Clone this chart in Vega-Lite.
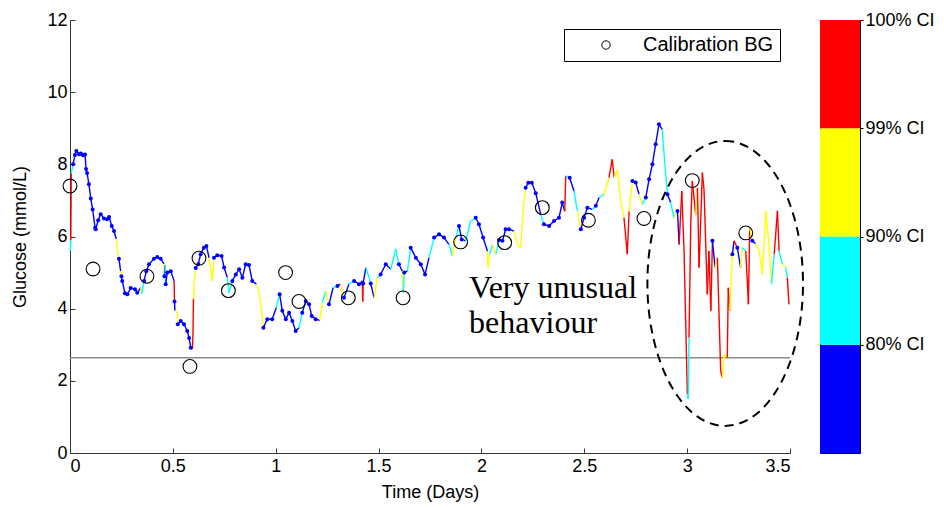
{
  "$schema": "https://vega.github.io/schema/vega-lite/v6.json",
  "padding": {"left": 11, "top": 10, "right": 5, "bottom": 5},
  "background": "white",
  "spacing": 30,
  "bounds": "flush",
  "config": {
    "view": {"stroke": null},
    "axis": {"labelFont": "Liberation Sans", "titleFont": "Liberation Sans", "labelFontSize": 18, "titleFontSize": 18, "titleFontWeight": "normal", "labelColor": "black", "titleColor": "black", "grid": false}
  },
  "datasets": {
    "trace": [
{"d":0.002,"g":5.60,"c":"90"},{"d":0.004,"g":5.90,"c":"100"},{"d":0.006,"g":7.75,"c":"90"},{"d":0.015,"g":8.00,"c":"80"},{"d":0.024,"g":8.26,"c":"80"},{"d":0.031,"g":8.37,"c":"80"},{"d":0.044,"g":8.28,"c":"80"},{"d":0.053,"g":8.30,"c":"80"},{"d":0.063,"g":8.25,"c":"80"},{"d":0.073,"g":8.27,"c":"80"},{"d":0.078,"g":7.87,"c":"80"},{"d":0.083,"g":7.76,"c":"80"},{"d":0.092,"g":7.45,"c":"80"},{"d":0.101,"g":7.05,"c":"80"},{"d":0.110,"g":6.75,"c":"80"},{"d":0.122,"g":6.24,"c":"80"},{"d":0.125,"g":6.20,"c":"80"},{"d":0.137,"g":6.45,"c":"80"},{"d":0.149,"g":6.62,"c":"80"},{"d":0.165,"g":6.50,"c":"80"},{"d":0.180,"g":6.48,"c":"80"},{"d":0.190,"g":6.54,"c":"80"},{"d":0.203,"g":6.29,"c":"80"},{"d":0.214,"g":6.15,"c":"80"},{"d":0.225,"g":5.93,"c":"99"},{"d":0.230,"g":5.60,"c":"99"},{"d":0.238,"g":5.38,"c":"80"},{"d":0.246,"g":5.04,"c":"99"},{"d":0.250,"g":4.90,"c":"80"},{"d":0.254,"g":4.77,"c":"80"},{"d":0.267,"g":4.43,"c":"80"},{"d":0.279,"g":4.40,"c":"80"},{"d":0.295,"g":4.57,"c":"80"},{"d":0.316,"g":4.54,"c":"80"},{"d":0.327,"g":4.44,"c":"80"},{"d":0.344,"g":4.58,"c":"99"},{"d":0.349,"g":4.40,"c":"90"},{"d":0.360,"g":4.77,"c":"80"},{"d":0.371,"g":5.04,"c":"80"},{"d":0.384,"g":5.23,"c":"80"},{"d":0.408,"g":5.38,"c":"80"},{"d":0.424,"g":5.43,"c":"80"},{"d":0.441,"g":5.38,"c":"80"},{"d":0.457,"g":5.24,"c":"99"},{"d":0.459,"g":4.90,"c":"80"},{"d":0.462,"g":5.20,"c":"90"},{"d":0.465,"g":4.68,"c":"80"},{"d":0.473,"g":5.00,"c":"80"},{"d":0.490,"g":5.04,"c":"80"},{"d":0.506,"g":4.77,"c":"100"},{"d":0.508,"g":4.20,"c":"80"},{"d":0.510,"g":3.94,"c":"99"},{"d":0.522,"g":3.90,"c":"99"},{"d":0.524,"g":3.57,"c":"80"},{"d":0.538,"g":3.66,"c":"80"},{"d":0.554,"g":3.57,"c":"80"},{"d":0.570,"g":3.38,"c":"80"},{"d":0.579,"g":3.19,"c":"80"},{"d":0.587,"g":2.92,"c":"80"},{"d":0.595,"g":2.88,"c":"100"},{"d":0.598,"g":3.33,"c":"100"},{"d":0.600,"g":4.27,"c":"99"},{"d":0.604,"g":4.77,"c":"99"},{"d":0.611,"g":5.13,"c":"80"},{"d":0.624,"g":5.24,"c":"80"},{"d":0.635,"g":5.51,"c":"80"},{"d":0.651,"g":5.69,"c":"80"},{"d":0.663,"g":5.74,"c":"80"},{"d":0.676,"g":5.41,"c":"99"},{"d":0.692,"g":4.77,"c":"99"},{"d":0.700,"g":5.41,"c":"80"},{"d":0.716,"g":5.48,"c":"80"},{"d":0.737,"g":5.46,"c":"80"},{"d":0.749,"g":5.14,"c":"80"},{"d":0.765,"g":4.86,"c":"90"},{"d":0.773,"g":4.44,"c":"90"},{"d":0.789,"g":4.77,"c":"80"},{"d":0.806,"g":4.95,"c":"80"},{"d":0.822,"g":5.09,"c":"80"},{"d":0.838,"g":4.86,"c":"80"},{"d":0.854,"g":5.23,"c":"80"},{"d":0.870,"g":5.21,"c":"80"},{"d":0.886,"g":4.77,"c":"80"},{"d":0.906,"g":4.68,"c":"99"},{"d":0.919,"g":4.44,"c":"99"},{"d":0.932,"g":3.94,"c":"99"},{"d":0.940,"g":3.47,"c":"80"},{"d":0.959,"g":3.71,"c":"80"},{"d":0.983,"g":3.71,"c":"80"},{"d":1.003,"g":4.03,"c":"90"},{"d":1.019,"g":4.40,"c":"80"},{"d":1.032,"g":3.94,"c":"80"},{"d":1.049,"g":3.71,"c":"80"},{"d":1.065,"g":3.89,"c":"80"},{"d":1.081,"g":3.66,"c":"80"},{"d":1.097,"g":3.38,"c":"80"},{"d":1.113,"g":3.47,"c":"90"},{"d":1.129,"g":3.89,"c":"80"},{"d":1.146,"g":4.21,"c":"80"},{"d":1.162,"g":4.12,"c":"80"},{"d":1.175,"g":3.80,"c":"80"},{"d":1.194,"g":3.71,"c":"80"},{"d":1.214,"g":3.68,"c":"99"},{"d":1.227,"g":4.17,"c":"90"},{"d":1.243,"g":4.49,"c":"99"},{"d":1.259,"g":4.12,"c":"80"},{"d":1.279,"g":4.58,"c":"90"},{"d":1.300,"g":4.63,"c":"80"},{"d":1.316,"g":4.68,"c":"99"},{"d":1.332,"g":4.30,"c":"80"},{"d":1.356,"g":4.68,"c":"90"},{"d":1.381,"g":4.77,"c":"80"},{"d":1.405,"g":4.68,"c":"80"},{"d":1.421,"g":4.77,"c":"100"},{"d":1.423,"g":4.20,"c":"100"},{"d":1.425,"g":4.70,"c":"80"},{"d":1.438,"g":5.14,"c":"90"},{"d":1.462,"g":4.70,"c":"80"},{"d":1.478,"g":4.30,"c":"99"},{"d":1.494,"g":4.86,"c":"90"},{"d":1.510,"g":4.95,"c":"80"},{"d":1.535,"g":5.23,"c":"80"},{"d":1.559,"g":5.09,"c":"90"},{"d":1.583,"g":5.65,"c":"90"},{"d":1.599,"g":5.23,"c":"80"},{"d":1.615,"g":5.04,"c":"99"},{"d":1.620,"g":4.44,"c":"90"},{"d":1.625,"g":5.00,"c":"80"},{"d":1.640,"g":5.04,"c":"90"},{"d":1.656,"g":5.69,"c":"80"},{"d":1.681,"g":5.41,"c":"80"},{"d":1.705,"g":5.23,"c":"80"},{"d":1.726,"g":4.95,"c":"80"},{"d":1.745,"g":5.41,"c":"90"},{"d":1.770,"g":5.97,"c":"80"},{"d":1.794,"g":6.06,"c":"80"},{"d":1.818,"g":5.97,"c":"80"},{"d":1.842,"g":5.78,"c":"90"},{"d":1.859,"g":5.46,"c":"99"},{"d":1.875,"g":5.97,"c":"90"},{"d":1.891,"g":6.29,"c":"80"},{"d":1.904,"g":5.92,"c":"80"},{"d":1.924,"g":5.88,"c":"90"},{"d":1.948,"g":6.43,"c":"90"},{"d":1.972,"g":6.52,"c":"80"},{"d":1.988,"g":6.34,"c":"80"},{"d":2.008,"g":5.97,"c":"80"},{"d":2.029,"g":5.60,"c":"99"},{"d":2.032,"g":5.14,"c":"99"},{"d":2.040,"g":5.50,"c":"90"},{"d":2.053,"g":5.78,"c":"99"},{"d":2.070,"g":5.51,"c":"90"},{"d":2.086,"g":5.90,"c":"80"},{"d":2.102,"g":5.88,"c":"80"},{"d":2.118,"g":6.20,"c":"80"},{"d":2.134,"g":6.20,"c":"80"},{"d":2.159,"g":6.15,"c":"99"},{"d":2.175,"g":5.78,"c":"99"},{"d":2.191,"g":5.69,"c":"99"},{"d":2.202,"g":6.71,"c":"99"},{"d":2.215,"g":7.35,"c":"80"},{"d":2.228,"g":7.49,"c":"80"},{"d":2.245,"g":7.49,"c":"80"},{"d":2.264,"g":7.20,"c":"80"},{"d":2.288,"g":6.62,"c":"90"},{"d":2.304,"g":6.34,"c":"80"},{"d":2.329,"g":6.29,"c":"80"},{"d":2.353,"g":6.43,"c":"80"},{"d":2.377,"g":6.52,"c":"80"},{"d":2.393,"g":6.94,"c":"80"},{"d":2.405,"g":6.70,"c":"100"},{"d":2.410,"g":7.68,"c":"90"},{"d":2.429,"g":7.63,"c":"80"},{"d":2.450,"g":7.26,"c":"90"},{"d":2.466,"g":6.71,"c":"99"},{"d":2.483,"g":6.20,"c":"80"},{"d":2.499,"g":6.52,"c":"80"},{"d":2.515,"g":6.80,"c":"80"},{"d":2.539,"g":6.75,"c":"90"},{"d":2.556,"g":6.85,"c":"80"},{"d":2.572,"g":7.08,"c":"90"},{"d":2.596,"g":7.17,"c":"99"},{"d":2.620,"g":7.63,"c":"100"},{"d":2.636,"g":8.14,"c":"100"},{"d":2.645,"g":7.63,"c":"99"},{"d":2.661,"g":7.86,"c":"99"},{"d":2.677,"g":6.98,"c":"99"},{"d":2.693,"g":6.52,"c":"100"},{"d":2.709,"g":5.51,"c":"100"},{"d":2.718,"g":6.70,"c":"99"},{"d":2.734,"g":7.54,"c":"80"},{"d":2.750,"g":7.50,"c":"80"},{"d":2.766,"g":7.17,"c":"99"},{"d":2.782,"g":6.89,"c":"90"},{"d":2.799,"g":7.08,"c":"80"},{"d":2.815,"g":7.59,"c":"80"},{"d":2.831,"g":8.00,"c":"80"},{"d":2.847,"g":8.56,"c":"80"},{"d":2.863,"g":9.11,"c":"80"},{"d":2.879,"g":8.97,"c":"90"},{"d":2.888,"g":8.28,"c":"90"},{"d":2.904,"g":7.17,"c":"80"},{"d":2.920,"g":6.94,"c":"90"},{"d":2.936,"g":6.52,"c":"99"},{"d":2.953,"g":6.71,"c":"80"},{"d":2.961,"g":5.78,"c":"100"},{"d":2.974,"g":7.26,"c":"100"},{"d":2.985,"g":5.60,"c":"100"},{"d":3.001,"g":1.63,"c":"90"},{"d":3.005,"g":1.50,"c":"90"},{"d":3.009,"g":3.20,"c":"100"},{"d":3.018,"g":6.43,"c":"100"},{"d":3.025,"g":7.54,"c":"100"},{"d":3.042,"g":6.60,"c":"99"},{"d":3.050,"g":7.35,"c":"100"},{"d":3.058,"g":5.14,"c":"100"},{"d":3.074,"g":7.77,"c":"100"},{"d":3.082,"g":7.30,"c":"100"},{"d":3.098,"g":4.40,"c":"100"},{"d":3.106,"g":5.60,"c":"100"},{"d":3.115,"g":3.94,"c":"100"},{"d":3.123,"g":5.88,"c":"80"},{"d":3.136,"g":5.14,"c":"99"},{"d":3.147,"g":5.41,"c":"100"},{"d":3.163,"g":2.27,"c":"100"},{"d":3.171,"g":2.09,"c":"99"},{"d":3.179,"g":2.74,"c":"99"},{"d":3.195,"g":2.64,"c":"100"},{"d":3.200,"g":4.58,"c":"100"},{"d":3.207,"g":3.94,"c":"99"},{"d":3.220,"g":5.51,"c":"80"},{"d":3.228,"g":5.88,"c":"100"},{"d":3.244,"g":5.69,"c":"80"},{"d":3.260,"g":5.14,"c":"99"},{"d":3.268,"g":5.69,"c":"90"},{"d":3.285,"g":5.60,"c":"100"},{"d":3.298,"g":4.12,"c":"100"},{"d":3.304,"g":6.24,"c":"99"},{"d":3.317,"g":5.88,"c":"80"},{"d":3.333,"g":5.80,"c":"99"},{"d":3.350,"g":5.60,"c":"99"},{"d":3.366,"g":4.95,"c":"99"},{"d":3.382,"g":6.71,"c":"99"},{"d":3.398,"g":5.78,"c":"99"},{"d":3.410,"g":4.68,"c":"90"},{"d":3.423,"g":5.50,"c":"100"},{"d":3.439,"g":6.71,"c":"100"},{"d":3.447,"g":5.60,"c":"90"},{"d":3.463,"g":5.23,"c":"99"},{"d":3.479,"g":5.14,"c":"90"},{"d":3.487,"g":4.86,"c":"100"},{"d":3.495,"g":4.12,"c":"100"}
    ],
    "calib": [
      {"d":0.0,"g":7.4},{"d":0.112,"g":5.1},{"d":0.374,"g":4.9},{"d":0.583,"g":2.4},{"d":0.627,"g":5.4},{"d":0.770,"g":4.5},{"d":1.048,"g":5.0},{"d":1.113,"g":4.2},{"d":1.353,"g":4.3},{"d":1.619,"g":4.3},{"d":1.899,"g":5.85},{"d":2.113,"g":5.83},{"d":2.296,"g":6.8},{"d":2.520,"g":6.45},{"d":2.790,"g":6.5},{"d":3.025,"g":7.55},{"d":3.285,"g":6.1}
    ]
  },
  "resolve": {"scale": {"x": "independent", "y": "independent"}, "legend": {"shape": "independent", "color": "independent"}},
  "hconcat": [
    {
      "width": 720,
      "height": 433,
      "layer": [
        {
          "data": {"values": [{"g": 2.64}]},
          "mark": {"type": "rule", "color": "#8c8c8c", "strokeWidth": 1.5},
          "encoding": {"y": {"field": "g", "type": "quantitative", "title": "Glucose (mmol/L)"}}
        },
        {
          "data": {"name": "trace"},
          "transform": [
            {"window": [{"op": "lead", "field": "d", "as": "d2"}, {"op": "lead", "field": "g", "as": "g2"}], "sort": [{"field": "d"}]},
            {"filter": "datum.d2 != null"}
          ],
          "mark": {"type": "rule", "strokeWidth": 1.4},
          "encoding": {
            "x": {"field": "d", "type": "quantitative", "title": "Time (Days)", "scale": {"domain": [0, 3.5], "nice": false, "zero": false},
                  "axis": {"values": [0, 0.5, 1, 1.5, 2, 2.5, 3, 3.5], "format": "~g", "tickSize": -5, "labelPadding": 9, "titlePadding": 8, "domainColor": "#333333", "tickColor": "#333333"}},
            "y": {"field": "g", "type": "quantitative", "title": "Glucose (mmol/L)", "scale": {"domain": [0, 12], "nice": false},
                  "axis": {"values": [0, 2, 4, 6, 8, 10, 12], "tickSize": -5, "labelPadding": 8, "titlePadding": 17, "domainColor": "#333333", "tickColor": "#333333"}},
            "x2": {"field": "d2"},
            "y2": {"field": "g2"},
            "color": {"field": "c", "type": "nominal", "scale": {"domain": ["80", "90", "99", "100"], "range": ["#0000ff", "#00ffff", "#ffff00", "#ff0000"]}, "legend": null}
          }
        },
        {
          "data": {"name": "trace"},
          "transform": [{"filter": "datum.c == '80'"}],
          "mark": {"type": "point", "filled": true, "size": 16, "color": "#0000ff", "opacity": 1},
          "encoding": {
            "x": {"field": "d", "type": "quantitative", "title": "Time (Days)"},
            "y": {"field": "g", "type": "quantitative", "title": "Glucose (mmol/L)"}
          }
        },
        {
          "data": {"name": "calib"},
          "mark": {"type": "point", "filled": false, "color": "black", "size": 190, "strokeWidth": 1.1, "opacity": 1},
          "encoding": {
            "x": {"field": "d", "type": "quantitative", "title": "Time (Days)"},
            "y": {"field": "g", "type": "quantitative", "title": "Glucose (mmol/L)"},
            "shape": {"datum": "Calibration BG", "type": "nominal", "scale": {"range": ["circle"]},
                      "legend": {"orient": "none", "legendX": 494, "legendY": 9, "title": null, "strokeColor": "black", "padding": 6, "symbolSize": 70, "symbolStrokeColor": "black", "symbolStrokeWidth": 1, "symbolOffset": 26, "labelOffset": 27, "labelFontSize": 20, "labelFont": "Liberation Sans", "labelColor": "black", "cornerRadius": 0}}
          }
        },
        {
          "data": {"values": [{"d": 1.94, "g": 4.3, "t": "Very unusual\nbehaviour"}]},
          "mark": {"type": "text", "font": "Liberation Serif", "fontSize": 32, "align": "left", "baseline": "alphabetic", "lineHeight": 35, "lineBreak": "\n", "color": "black"},
          "encoding": {
            "x": {"field": "d", "type": "quantitative", "title": "Time (Days)"},
            "y": {"field": "g", "type": "quantitative", "title": "Glucose (mmol/L)"},
            "text": {"field": "t"}
          }
        },
        {
          "data": {"values": [{"d": 3.185, "g": 4.70}]},
          "mark": {"type": "point", "shape": "M0,-1A0.546,1 0 1,1 0,1A0.546,1 0 1,1 0,-1Z", "size": 81225, "filled": false, "stroke": "black", "strokeWidth": 2, "strokeDash": [9, 6], "opacity": 1},
          "encoding": {
            "x": {"field": "d", "type": "quantitative", "title": "Time (Days)"},
            "y": {"field": "g", "type": "quantitative", "title": "Glucose (mmol/L)"}
          }
        }
      ]
    },
    {
      "width": 40,
      "height": 433,
      "view": {"stroke": "black", "strokeWidth": 1},
      "data": {"values": [{"lo": 0, "hi": 1, "c": "80"}, {"lo": 1, "hi": 2, "c": "90"}, {"lo": 2, "hi": 3, "c": "99"}, {"lo": 3, "hi": 4, "c": "100"}]},
      "mark": {"type": "rect"},
      "encoding": {
        "y": {"field": "lo", "type": "quantitative", "scale": {"domain": [0, 4], "nice": false},
              "axis": {"orient": "right", "values": [1, 2, 3, 4], "title": null, "domain": false, "tickSize": 3, "tickColor": "black", "labelPadding": 2,
                       "labelExpr": "datum.value == 4 ? '100% CI' : datum.value == 3 ? '99% CI' : datum.value == 2 ? '90% CI' : '80% CI'"}},
        "y2": {"field": "hi"},
        "color": {"field": "c", "type": "nominal", "scale": {"domain": ["80", "90", "99", "100"], "range": ["#0000ff", "#00ffff", "#ffff00", "#ff0000"]}, "legend": null}
      }
    }
  ]
}
